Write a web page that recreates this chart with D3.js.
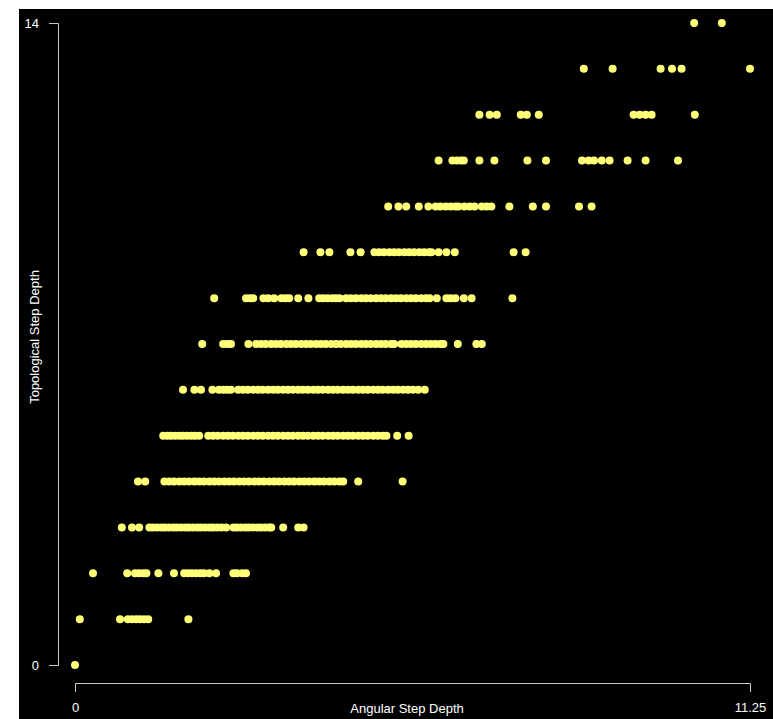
<!DOCTYPE html>
<html>
<head>
<meta charset="utf-8">
<script src="https://cdn.jsdelivr.net/npm/d3@7"></script>
<style>
    html, body { margin: 0; padding: 0; background: #fff; }
    svg { display: block; }
    .axis path, .axis line { stroke: #c8c8c8; stroke-width: 1; }
    .axis text, .title { fill: #fff; font-family: "Liberation Sans", Arial, sans-serif; font-size: 13px; }
</style>
</head>
<body>
<svg id="chart"></svg>
<script>
const width = 773;
const height = 719;

// angular step depth values, one list per topological step depth
const depth0 = [0];
const depth1 = [0.08, 0.75, 0.88, 0.95, 1.02, 1.08, 1.15, 1.22, 1.89];
const depth2 = [0.30, 0.87, 1.00, 1.07, 1.14, 1.19, 1.39, 1.65, 1.82, 1.89, 1.95, 2.02, 2.09, 2.15, 2.24, 2.35,
    2.64, 2.70, 2.79, 2.85];
const depth3 = [0.78, 0.95, 1.07, 1.24, 1.30, 1.37, 1.44, 1.50, 1.57, 1.64, 1.70, 1.77, 1.84, 1.90, 1.97, 2.04,
    2.10, 2.17, 2.24, 2.30, 2.37, 2.44, 2.52, 2.64, 2.70, 2.77, 2.84, 2.90, 2.97, 3.04, 3.10, 3.17, 3.24, 3.27,
    3.47, 3.72, 3.81];
const depth4 = [1.05, 1.17, 1.49, 1.57, 1.65, 1.74, 1.82, 1.90, 1.99, 2.07, 2.15, 2.24, 2.32, 2.40, 2.49, 2.57,
    2.65, 2.74, 2.82, 2.90, 2.99, 3.07, 3.15, 3.24, 3.32, 3.40, 3.49, 3.57, 3.65, 3.74, 3.82, 3.90, 3.99, 4.07,
    4.15, 4.24, 4.32, 4.41, 4.47, 4.72, 5.46];
const depth5 = [1.47, 1.54, 1.60, 1.67, 1.74, 1.80, 1.87, 1.94, 2.00, 2.07, 2.22, 2.30, 2.38, 2.47, 2.55, 2.63,
    2.72, 2.80, 2.88, 2.97, 3.05, 3.13, 3.22, 3.30, 3.38, 3.47, 3.55, 3.63, 3.72, 3.80, 3.88, 3.97, 4.05, 4.13,
    4.22, 4.30, 4.38, 4.47, 4.55, 4.63, 4.72, 4.80, 4.88, 4.97, 5.05, 5.13, 5.19, 5.37, 5.56];
const depth6 = [1.80, 1.99, 2.10, 2.29, 2.40, 2.47, 2.54, 2.60, 2.72, 2.80, 2.88, 2.97, 3.05, 3.13, 3.22, 3.30,
    3.38, 3.47, 3.55, 3.63, 3.72, 3.80, 3.88, 3.97, 4.05, 4.13, 4.22, 4.30, 4.38, 4.47, 4.55, 4.63, 4.72, 4.80,
    4.88, 4.97, 5.05, 5.13, 5.22, 5.30, 5.38, 5.47, 5.55, 5.63, 5.72, 5.83];
const depth7 = [2.12, 2.47, 2.54, 2.60, 2.89, 3.02, 3.10, 3.18, 3.27, 3.35, 3.43, 3.52, 3.60, 3.68, 3.77, 3.85,
    3.93, 4.02, 4.10, 4.18, 4.27, 4.35, 4.43, 4.52, 4.60, 4.68, 4.77, 4.85, 4.93, 5.02, 5.10, 5.18, 5.27, 5.32,
    5.44, 5.52, 5.60, 5.68, 5.77, 5.85, 5.93, 6.01, 6.09, 6.14, 6.38, 6.69, 6.78];
const depth8 = [2.32, 2.85, 2.92, 2.97, 3.14, 3.22, 3.32, 3.44, 3.51, 3.57, 3.72, 3.89, 4.07, 4.14, 4.21, 4.29,
    4.35, 4.41, 4.52, 4.60, 4.68, 4.77, 4.85, 4.93, 5.02, 5.10, 5.18, 5.27, 5.35, 5.43, 5.52, 5.60, 5.68, 5.77,
    5.85, 5.91, 6.03, 6.19, 6.26, 6.34, 6.48, 6.61, 7.29];
const depth9 = [3.81, 4.09, 4.24, 4.59, 4.76, 4.99, 5.07, 5.15, 5.24, 5.32, 5.40, 5.49, 5.57, 5.65, 5.74, 5.82,
    5.90, 5.94, 6.06, 6.19, 6.33, 7.31, 7.51];
const depth10 = [5.22, 5.39, 5.52, 5.73, 5.89, 6.01, 6.09, 6.18, 6.26, 6.34, 6.39, 6.49, 6.58, 6.66, 6.78, 6.86,
    6.94, 7.24, 7.63, 7.85, 8.40, 8.61];
const depth11 = [6.06, 6.29, 6.36, 6.43, 6.48, 6.74, 6.99, 7.54, 7.85, 8.45, 8.56, 8.65, 8.78, 8.91, 9.21, 9.51,
    10.05];
const depth12 = [6.74, 6.91, 7.03, 7.43, 7.53, 7.73, 9.31, 9.41, 9.51, 9.61, 10.33];
const depth13 = [8.48, 8.96, 9.76, 9.95, 10.11, 11.25];
const depth14 = [10.32, 10.78];

const rows = [depth0, depth1, depth2, depth3, depth4, depth5, depth6, depth7,
    depth8, depth9, depth10, depth11, depth12, depth13, depth14];

const xTicks = [0, 11.25];
const yTicks = [0, 14];

const points = rows.flatMap((row, depth) => row.map(a => ({ angular: a, topological: depth })));

const svg = d3.select("#chart")
    .attr("width", width)
    .attr("height", height);

// black plotting panel
svg.append("rect")
    .attr("x", 19)
    .attr("y", 9)
    .attr("width", width - 19)
    .attr("height", height - 9)
    .attr("fill", "#000");

const x = d3.scaleLinear().domain([0, 11.25]).range([75, 750]);
const y = d3.scaleLinear().domain([0, 14]).range([665, 23]);

// axes, R style: bracket with ticks only at the ends
svg.append("g")
    .attr("class", "axis")
    .attr("transform", "translate(0, 683)")
    .call(d3.axisBottom(x).tickValues(xTicks).tickFormat(d => d).tickSize(9).tickPadding(11));

svg.append("g")
    .attr("class", "axis")
    .attr("transform", "translate(58, 0)")
    .call(d3.axisLeft(y).tickValues(yTicks).tickFormat(d => d).tickSize(9).tickPadding(10));

svg.selectAll(".axis .tick line").remove();

svg.append("text")
    .attr("class", "title")
    .attr("x", 407)
    .attr("y", 713)
    .attr("text-anchor", "middle")
    .text("Angular Step Depth");

svg.append("text")
    .attr("class", "title")
    .attr("transform", "translate(39, 337) rotate(-90)")
    .attr("text-anchor", "middle")
    .text("Topological Step Depth");

// points
svg.append("g")
    .selectAll("circle")
    .data(points)
    .join("circle")
    .attr("cx", d => x(d.angular))
    .attr("cy", d => y(d.topological))
    .attr("r", 4)
    .attr("fill", "#ffff78");
</script>
</body>
</html>
